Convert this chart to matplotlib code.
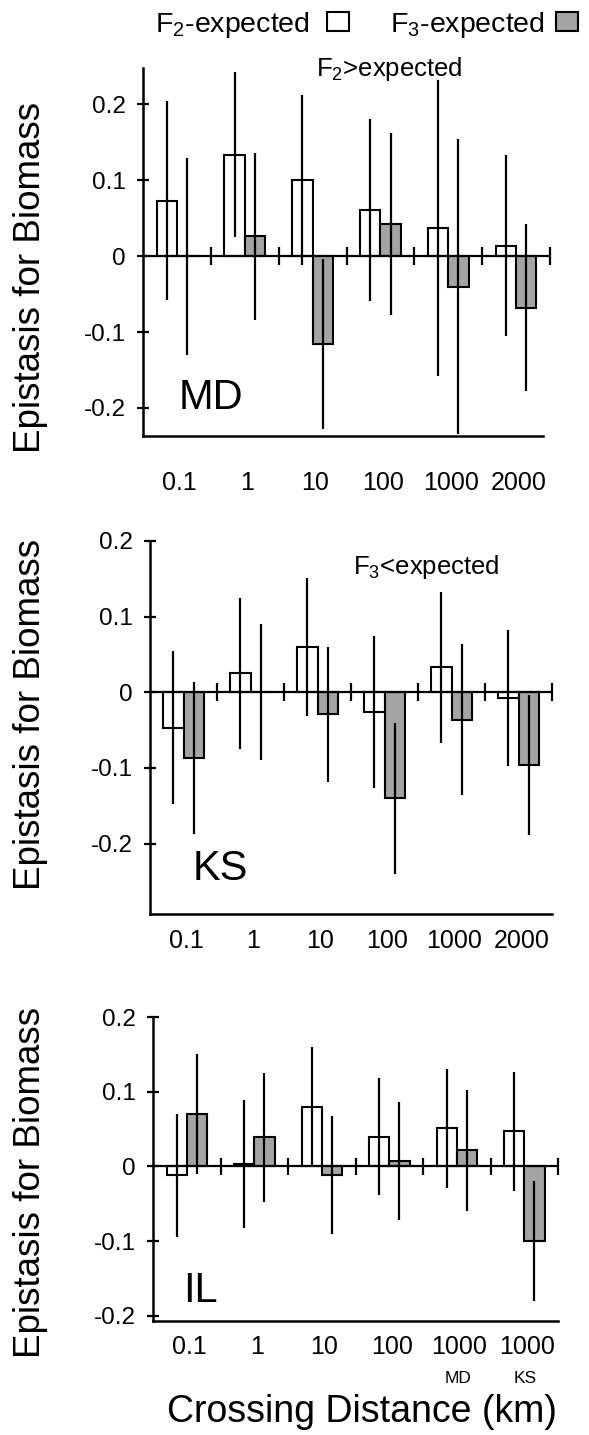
import numpy as np
import matplotlib
matplotlib.use("Agg")
import matplotlib.pyplot as plt
from matplotlib.patches import Rectangle

plt.rcParams["font.family"] = ["Liberation Sans", "DejaVu Sans"]
plt.rcParams["mathtext.fontset"] = "custom"
plt.rcParams["mathtext.rm"] = "Liberation Sans"
plt.rcParams["mathtext.it"] = "Liberation Sans"
plt.rcParams["mathtext.default"] = "regular"

# crossing distances (km)
dist_labels = ["0.1", "1", "10", "100", "1000", "2000"]
il_labels = ["0.1", "1", "10", "100", "1000", "1000"]
il_sublabels = ["", "", "", "", "MD", "KS"]

# MD
md_f2 = [0.073, 0.134, 0.101, 0.061, 0.037, 0.014]
md_f2_err = [0.131, 0.109, 0.112, 0.120, 0.195, 0.119]
md_f3 = [0.0, 0.026, -0.116, 0.043, -0.040, -0.068]
md_f3_err = [0.130, 0.110, 0.112, 0.120, 0.195, 0.110]

# KS
ks_f2 = [-0.047, 0.025, 0.060, -0.026, 0.033, -0.008]
ks_f2_err = [0.101, 0.100, 0.091, 0.101, 0.100, 0.090]
ks_f3 = [-0.087, 0.0, -0.029, -0.140, -0.036, -0.096]
ks_f3_err = [0.100, 0.090, 0.089, 0.100, 0.100, 0.092]

# IL
il_f2 = [-0.012, 0.003, 0.080, 0.040, 0.051, 0.047]
il_f2_err = [0.082, 0.086, 0.080, 0.078, 0.080, 0.080]
il_f3 = [0.070, 0.039, -0.012, 0.007, 0.022, -0.100]
il_f3_err = [0.080, 0.086, 0.079, 0.079, 0.081, 0.080]

GRAY = "#a4a4a4"
W = 0.3


def panel(ax, f2, f2_err, f3, f3_err, labels, ylim, tag, tag_xy, label_pad):
    n = len(labels)
    centers = np.arange(n) + 0.5
    xw = centers - W / 2
    xg = centers + W / 2
    ax.bar(xw, f2, width=W, color="white", edgecolor="black", linewidth=1.5, zorder=2)
    ax.bar(xg, f3, width=W, color=GRAY, edgecolor="black", linewidth=1.5, zorder=2)
    ax.errorbar(xw, f2, yerr=f2_err, fmt="none", ecolor="black", elinewidth=1.6,
                capsize=0, zorder=3)
    ax.errorbar(xg, f3, yerr=f3_err, fmt="none", ecolor="black", elinewidth=1.6,
                capsize=0, zorder=3)
    ax.axhline(0, color="black", lw=1.6, zorder=4)
    ax.vlines(np.arange(1, n + 1), -0.012, 0.012, color="black", lw=1.6,
              zorder=4, clip_on=False)

    ax.set_xlim(0, n)
    ax.set_ylim(*ylim)
    ax.set_xticks(centers + 0.04)
    ax.set_xticklabels(labels, fontsize=18)
    ax.tick_params(axis="x", length=0, pad=label_pad)
    ax.set_yticks([0.2, 0.1, 0, -0.1, -0.2])
    ax.set_yticklabels(["0.2", "0.1", "0", "-0.1", "-0.2"], fontsize=17.5)
    ax.tick_params(axis="y", direction="inout", length=9, width=1.6, pad=8)
    for s in ["top", "right"]:
        ax.spines[s].set_visible(False)
    for s in ["left", "bottom"]:
        ax.spines[s].set_linewidth(1.8)
    ax.text(tag_xy[0], tag_xy[1], tag, fontsize=30, va="baseline")


fig = plt.figure(figsize=(5.89, 14.35), dpi=100)

ax1 = fig.add_axes([0.2428, 0.6962, 0.691, 0.2564])
panel(ax1, md_f2, md_f2_err, md_f3, md_f3_err, dist_labels, (-0.237, 0.248),
      "MD", (0.53, -0.201), 25)
ax1.spines["bottom"].set_bounds(0, 5.9)
ax1.text(2.55, 0.238, r"$\mathregular{F_2}$>expected", fontsize=18.5, va="baseline")

ax2 = fig.add_axes([0.2547, 0.3631, 0.6825, 0.2599])
panel(ax2, ks_f2, ks_f2_err, ks_f3, ks_f3_err, dist_labels, (-0.293, 0.2),
      "KS", (0.64, -0.248), 11)
ax2.text(3.03, 0.156, r"$\mathregular{F_3}$<expected", fontsize=18.5, va="baseline")

ax3 = fig.add_axes([0.2598, 0.0794, 0.6876, 0.2118])
panel(ax3, il_f2, il_f2_err, il_f3, il_f3_err, il_labels, (-0.207, 0.2),
      "IL", (0.44, -0.182), 10)
for i, sub in enumerate(il_sublabels):
    if sub:
        ax3.text(i + 0.52, -0.19, sub, fontsize=12.5, ha="center", va="center",
                 transform=ax3.get_xaxis_transform())

# y labels
for yc in [0.807, 0.5024, 0.1763]:
    fig.text(0.051, yc, "Epistasis for Biomass", rotation=90, fontsize=26.5,
             ha="center", va="center")

fig.text(0.615, 0.009, "Crossing Distance (km)", fontsize=27, ha="center",
         va="baseline")

# legend on top
fig.text(0.263, 0.9777, r"$\mathregular{F_2}$-expected", fontsize=20.5, va="baseline")
fig.patches.append(Rectangle((327 / 589, 1 - 31 / 1435), 22 / 589, 19 / 1435,
                             transform=fig.transFigure, facecolor="white",
                             edgecolor="black", linewidth=1.5))
fig.text(0.662, 0.9777, r"$\mathregular{F_3}$-expected", fontsize=20.5, va="baseline")
fig.patches.append(Rectangle((556 / 589, 1 - 31 / 1435), 22 / 589, 19 / 1435,
                             transform=fig.transFigure, facecolor=GRAY,
                             edgecolor="black", linewidth=1.5))

fig.savefig("out.png", dpi=100)
